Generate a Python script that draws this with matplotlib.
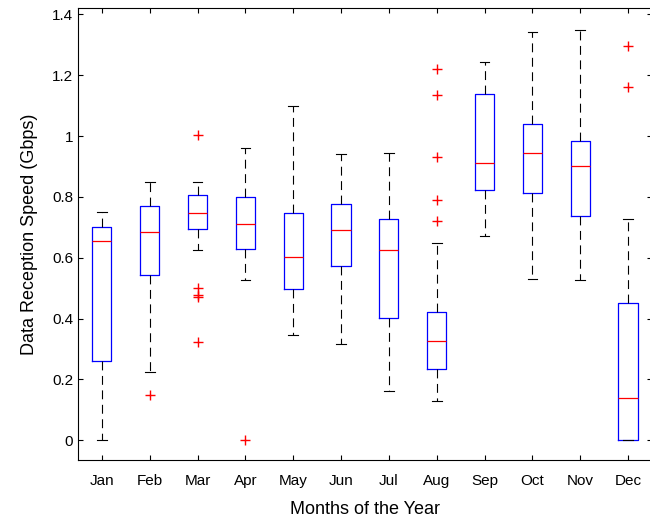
import matplotlib
matplotlib.use("Agg")
import matplotlib.pyplot as plt

months = ["Jan", "Feb", "Mar", "Apr", "May", "Jun", "Jul", "Aug", "Sep", "Oct", "Nov", "Dec"]
q1 = [0.26, 0.545, 0.695, 0.63, 0.498, 0.573, 0.403, 0.235, 0.823, 0.812, 0.738, 0.0]
med = [0.655, 0.685, 0.748, 0.712, 0.603, 0.69, 0.627, 0.325, 0.91, 0.945, 0.902, 0.14]
q3 = [0.70, 0.77, 0.805, 0.80, 0.748, 0.778, 0.728, 0.423, 1.137, 1.04, 0.985, 0.45]
wlo = [0.0, 0.225, 0.625, 0.527, 0.345, 0.318, 0.162, 0.13, 0.672, 0.53, 0.528, 0.0]
whi = [0.75, 0.848, 0.848, 0.962, 1.098, 0.94, 0.945, 0.648, 1.245, 1.343, 1.348, 0.728]
outliers = [[], [0.148], [1.005, 0.5, 0.478, 0.47, 0.322], [0.0], [], [], [],
            [0.72, 0.79, 0.932, 1.135, 1.222], [], [], [], [1.16, 1.295]]

stats = []
for i, m in enumerate(months):
    stats.append(dict(label=m, q1=q1[i], med=med[i], q3=q3[i],
                      whislo=wlo[i], whishi=whi[i], fliers=outliers[i]))

plt.rcParams['font.family'] = ['Liberation Sans', 'DejaVu Sans']
fig = plt.figure(figsize=(6.5, 5.22), dpi=100)
ax = fig.add_axes([0.12, 0.118, 0.883, 0.866])
ax.bxp(stats, widths=0.4,
       boxprops=dict(color='blue', lw=0.9),
       medianprops=dict(color='red', lw=0.9),
       whiskerprops=dict(color='black', lw=0.8, linestyle=(0, (8, 5))),
       capprops=dict(color='black', lw=0.8),
       flierprops=dict(marker='+', markeredgecolor='red', markersize=7, linestyle='none'))
ax.set_ylim(-0.066, 1.42)
ax.set_xlim(0.5, 12.5)
ax.set_yticks([0, 0.2, 0.4, 0.6, 0.8, 1.0, 1.2, 1.4])
ax.set_yticklabels(["0", "0.2", "0.4", "0.6", "0.8", "1", "1.2", "1.4"])
ax.tick_params(direction='in', top=True, right=True, labelsize=11)
ax.tick_params(axis='x', pad=10)
ax.set_xlabel("Months of the Year", fontsize=13, labelpad=9)
ax.set_ylabel("Data Reception Speed (Gbps)", fontsize=13, labelpad=10)
fig.savefig("out.png")
